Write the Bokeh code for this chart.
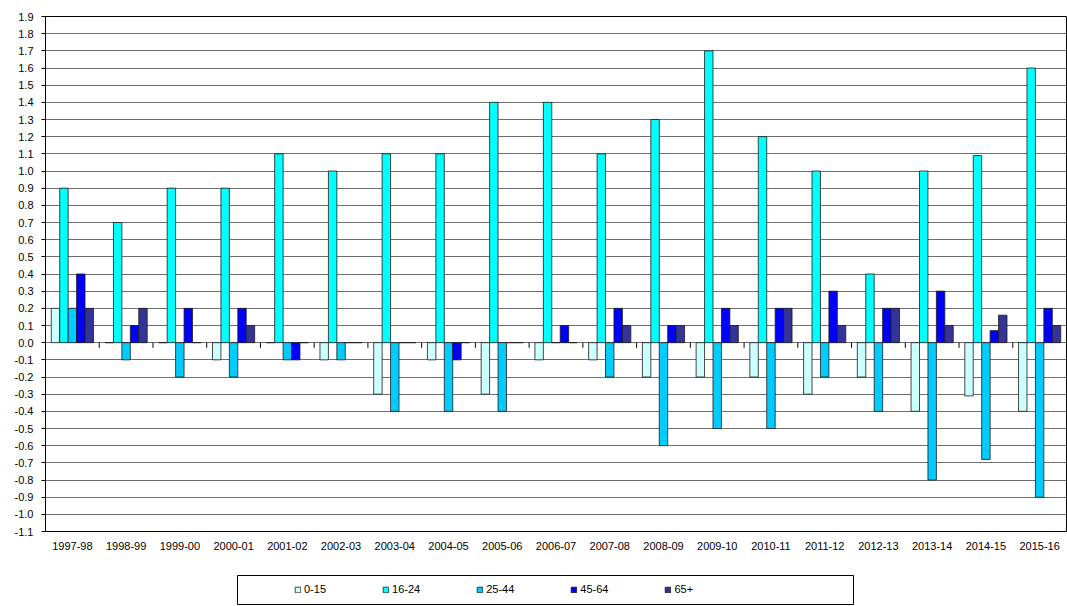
from bokeh.plotting import figure
from bokeh.layouts import column
from bokeh.models import (ColumnDataSource, FactorRange, Range1d, FixedTicker,
                          NumeralTickFormatter, Legend, LegendItem)
from bokeh.transform import dodge
from bokeh.embed import file_html
from bokeh.resources import INLINE

years = ["1997-98", "1998-99", "1999-00", "2000-01", "2001-02", "2002-03", "2003-04",
         "2004-05", "2005-06", "2006-07", "2007-08", "2008-09", "2009-10", "2010-11",
         "2011-12", "2012-13", "2013-14", "2014-15", "2015-16"]
age_groups = ["0-15", "16-24", "25-44", "45-64", "65+"]
v_0_15 = [0.2, 0.0, 0.0, -0.1, 0.0, -0.1, -0.3, -0.1, -0.3, -0.1, -0.1, -0.2, -0.2, -0.2,
          -0.3, -0.2, -0.4, -0.31, -0.4]
v_16_24 = [0.9, 0.7, 0.9, 0.9, 1.1, 1.0, 1.1, 1.1, 1.4, 1.4, 1.1, 1.3, 1.7, 1.2,
           1.0, 0.4, 1.0, 1.09, 1.6]
v_25_44 = [0.2, -0.1, -0.2, -0.2, -0.1, -0.1, -0.4, -0.4, -0.4, 0.0, -0.2, -0.6, -0.5, -0.5,
           -0.2, -0.4, -0.8, -0.68, -0.9]
v_45_64 = [0.4, 0.1, 0.2, 0.2, -0.1, 0.0, 0.0, -0.1, 0.0, 0.1, 0.2, 0.1, 0.2, 0.2,
           0.3, 0.2, 0.3, 0.07, 0.2]
v_65_plus = [0.2, 0.2, 0.0, 0.1, 0.0, 0.0, 0.0, 0.0, 0.0, 0.0, 0.1, 0.1, 0.1, 0.2,
             0.1, 0.2, 0.1, 0.16, 0.1]
y_ticks = [-1.1, -1.0, -0.9, -0.8, -0.7, -0.6, -0.5, -0.4, -0.3, -0.2, -0.1, 0.0,
           0.1, 0.2, 0.3, 0.4, 0.5, 0.6, 0.7, 0.8, 0.9, 1.0, 1.1, 1.2, 1.3, 1.4, 1.5,
           1.6, 1.7, 1.8, 1.9]
colors = ["#CCFFFF", "#00FFFF", "#00CCFF", "#0000FF", "#333399"]

FONT = "Liberation Sans"

source = ColumnDataSource(data=dict(years=years, g0=v_0_15, g1=v_16_24, g2=v_25_44,
                                    g3=v_45_64, g4=v_65_plus,
                                    zero=[0.0] * len(years), tick=[-0.03] * len(years)))

# ---------------- main chart ----------------
p = figure(width=1067, height=560, output_backend="svg", toolbar_location=None,
           x_range=FactorRange(factors=years, range_padding=0, factor_padding=0),
           y_range=Range1d(y_ticks[0], y_ticks[-1]),
           min_border_left=45, min_border_right=1, min_border_top=16, min_border_bottom=29)
p.background_fill_color = "white"
p.border_fill_color = "white"
p.outline_line_color = "black"
p.outline_line_width = 1

bw = 0.157
for k, (col, c) in enumerate(zip(["g0", "g1", "g2", "g3", "g4"], colors)):
    p.vbar(x=dodge("years", (k - 2) * bw, range=p.x_range), top=col, bottom=0,
           width=bw, source=source, fill_color=c, line_color="#1a1a1a", line_width=0.8)

# small category-boundary ticks on the zero line
p.segment(x0=dodge("years", -0.5, range=p.x_range), x1=dodge("years", -0.5, range=p.x_range),
          y0="zero", y1="tick", source=source, line_color="black", line_width=1)

p.yaxis.ticker = FixedTicker(ticks=y_ticks)
p.yaxis.formatter = NumeralTickFormatter(format="0.0")
p.yaxis.axis_line_color = "black"
p.yaxis.major_tick_line_color = "black"
p.yaxis.major_tick_in = 0
p.yaxis.major_tick_out = 4
p.yaxis.minor_tick_line_color = None
p.yaxis.major_label_standoff = 8
p.yaxis.major_label_text_font = FONT
p.yaxis.major_label_text_font_size = "11px"
p.yaxis.major_label_text_color = "black"

p.xaxis.axis_line_color = None
p.xaxis.major_tick_line_color = None
p.xaxis.major_tick_out = 0
p.xaxis.major_tick_in = 0
p.xaxis.major_label_standoff = 10
p.xaxis.major_label_text_font = FONT
p.xaxis.major_label_text_font_size = "11px"
p.xaxis.major_label_text_color = "black"

p.xgrid.visible = False
p.ygrid.grid_line_color = "#6e6e6e"
p.ygrid.grid_line_width = 1

# ---------------- legend strip ----------------
# ranges in page pixels so the legend box can be placed like the reference
p2 = figure(width=1067, height=46, output_backend="svg", toolbar_location=None,
            x_range=Range1d(45, 1066), y_range=Range1d(606, 573),
            x_axis_type=None, y_axis_type=None,
            min_border_left=45, min_border_right=1, min_border_top=13, min_border_bottom=0)
p2.background_fill_color = "white"
p2.border_fill_color = "white"
p2.outline_line_color = None
p2.grid.visible = False

p2.quad(left=[237], right=[853], top=[575], bottom=[604], fill_color="white",
        line_color="black", line_width=1)

nan = float("nan")
legend_renderers = [p2.vbar(x=[nan], top=[nan], bottom=[nan], width=1, fill_color=c,
                            line_color="#1a1a1a", line_width=0.8) for c in colors]
legend = Legend(items=[LegendItem(label=g, renderers=[r]) for g, r in zip(age_groups, legend_renderers)],
                location=(249, 10), orientation="horizontal", padding=0, margin=0,
                glyph_width=7, glyph_height=7, label_standoff=3, spacing=56,
                label_height=14, label_text_font=FONT, label_text_font_size="11px",
                label_text_color="black",
                border_line_alpha=0, background_fill_alpha=0)
p2.add_layout(legend)

layout = column(p, p2, spacing=0)
open("out.html", "w").write(file_html(layout, INLINE))
